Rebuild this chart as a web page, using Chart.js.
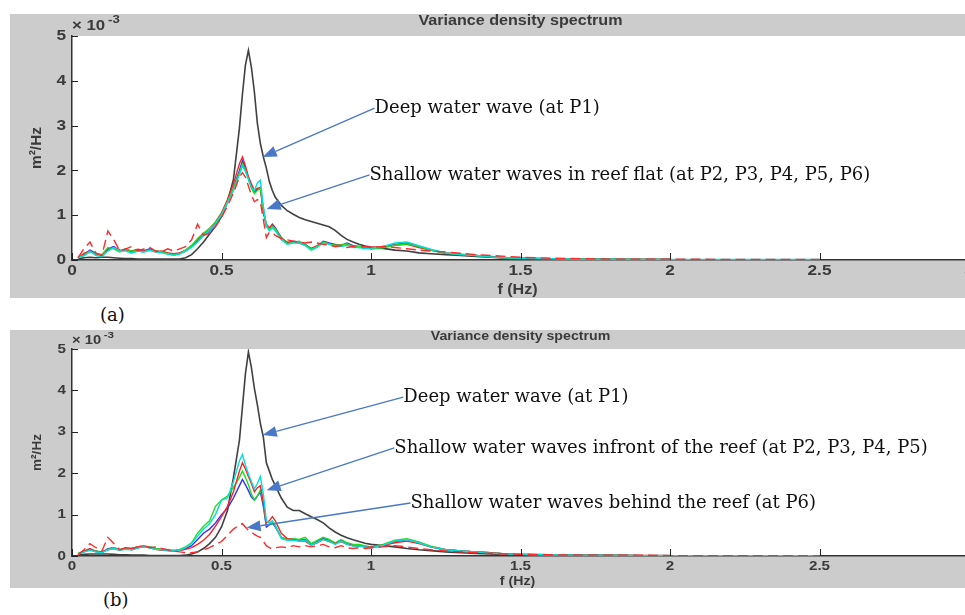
<!DOCTYPE html>
<html>
<head>
<meta charset="utf-8">
<script src="https://cdn.jsdelivr.net/npm/chart.js@4.4.0/dist/chart.umd.min.js"></script>
<style>
    html, body { margin: 0; padding: 0; background: #fff; width: 965px; height: 615px; overflow: hidden; }
    .panel { position: absolute; left: 10px; }
    #panelA { top: 14px; }
    #panelB { top: 330px; }
    .cap { position: absolute; font-family: "DejaVu Serif", serif; font-size: 18px; color: #111; }
</style>
</head>
<body>
<canvas id="panelA" class="panel" width="965" height="284"></canvas>
<canvas id="panelB" class="panel" width="965" height="258"></canvas>
<div class="cap" style="left:100px; top:304px;">(a)</div>
<div class="cap" style="left:103px; top:589px;">(b)</div>
<script>
// frequency axis (Hz), values in units of 1e-3 m^2/Hz
const freq = [0.02, 0.04, 0.06, 0.08, 0.10, 0.12, 0.14, 0.16, 0.18, 0.20, 0.22, 0.24, 0.26, 0.28,
    0.30, 0.32, 0.34, 0.36, 0.38, 0.40, 0.42, 0.44, 0.46, 0.48, 0.50, 0.52, 0.54, 0.56,
    0.57, 0.58, 0.59, 0.60, 0.61, 0.62, 0.63, 0.64, 0.65, 0.66, 0.67, 0.68,
    0.70, 0.72, 0.74, 0.76, 0.78, 0.80, 0.82, 0.84, 0.86, 0.88, 0.90, 0.92, 0.94, 0.96, 0.98, 1.00,
    1.04, 1.08, 1.12, 1.16, 1.20, 1.25, 1.30, 1.35, 1.40, 1.45, 1.50, 1.60, 1.70, 1.80, 1.90, 2.00, 2.25, 2.50];

const xTicks = [0, 0.5, 1, 1.5, 2, 2.5, 3];
const yTicks = [0, 1, 2, 3, 4, 5];

// (a) reef flat
const aP1 = [0.02, 0.05, 0.06, 0.05, 0.06, 0.06, 0.05, 0.04, 0.03, 0.03, 0.02, 0.02, 0.02, 0.02,
    0.02, 0.02, 0.02, 0.02, 0.05, 0.12, 0.25, 0.40, 0.58, 0.75, 0.97, 1.30, 1.80, 2.95,
    3.70, 4.35, 4.68, 4.30, 3.75, 3.05, 2.60, 2.30, 2.05, 1.75, 1.55, 1.40,
    1.22, 1.10, 1.02, 0.95, 0.90, 0.86, 0.82, 0.78, 0.74, 0.66, 0.55, 0.46, 0.40, 0.35, 0.31, 0.29,
    0.26, 0.22, 0.20, 0.16, 0.14, 0.12, 0.10, 0.08, 0.06, 0.04, 0.03, 0.02, 0.02, 0.01, 0.01, 0.01, null, null];
const aBlue = [0.05, 0.12, 0.22, 0.15, 0.10, 0.25, 0.30, 0.20, 0.25, 0.18, 0.22, 0.20, 0.25, 0.20,
    0.18, 0.15, 0.12, 0.15, 0.20, 0.30, 0.42, 0.55, 0.65, 0.80, 1.00, 1.30, 1.60, 2.00,
    2.22, 2.05, 1.85, 1.65, 1.50, 1.58, 1.62, 1.10, 0.75, 0.70, 0.80, 0.72,
    0.50, 0.38, 0.42, 0.40, 0.35, 0.25, 0.30, 0.42, 0.38, 0.35, 0.32, 0.38, 0.32, 0.30, 0.28, 0.25,
    0.28, 0.35, 0.38, 0.30, 0.22, 0.15, 0.12, 0.10, 0.08, 0.05, 0.04, 0.03, 0.02, 0.02, 0.01, 0.01, null, null];
const aRed = [0.04, 0.15, 0.20, 0.12, 0.12, 0.22, 0.28, 0.22, 0.22, 0.20, 0.24, 0.22, 0.22, 0.18,
    0.20, 0.16, 0.14, 0.16, 0.22, 0.32, 0.45, 0.58, 0.70, 0.85, 1.05, 1.35, 1.70, 2.15,
    2.30, 2.10, 1.85, 1.70, 1.55, 1.60, 1.60, 1.05, 0.80, 0.72, 0.78, 0.70,
    0.48, 0.40, 0.40, 0.38, 0.33, 0.26, 0.32, 0.40, 0.36, 0.33, 0.34, 0.36, 0.30, 0.28, 0.30, 0.28,
    0.30, 0.33, 0.35, 0.28, 0.22, 0.16, 0.13, 0.10, 0.07, 0.05, 0.04, 0.03, 0.02, 0.02, 0.01, 0.01, null, null];
const aGreen = [0.06, 0.10, 0.18, 0.14, 0.12, 0.28, 0.25, 0.18, 0.25, 0.20, 0.20, 0.18, 0.22, 0.20,
    0.18, 0.14, 0.12, 0.14, 0.22, 0.32, 0.48, 0.60, 0.70, 0.85, 1.02, 1.30, 1.60, 1.95,
    2.15, 2.00, 1.80, 1.60, 1.48, 1.55, 1.60, 1.15, 0.78, 0.68, 0.75, 0.70,
    0.48, 0.36, 0.40, 0.42, 0.35, 0.24, 0.30, 0.40, 0.36, 0.33, 0.33, 0.36, 0.30, 0.30, 0.28, 0.25,
    0.27, 0.33, 0.36, 0.30, 0.22, 0.15, 0.12, 0.10, 0.07, 0.05, 0.04, 0.03, 0.02, 0.02, 0.01, 0.01, null, null];
const aCyan = [0.04, 0.10, 0.20, 0.10, 0.08, 0.20, 0.28, 0.20, 0.20, 0.15, 0.20, 0.18, 0.22, 0.18,
    0.16, 0.13, 0.10, 0.13, 0.20, 0.28, 0.40, 0.55, 0.66, 0.80, 1.00, 1.28, 1.55, 1.90,
    2.10, 1.98, 1.80, 1.62, 1.55, 1.72, 1.78, 1.20, 0.75, 0.65, 0.72, 0.65,
    0.45, 0.35, 0.38, 0.38, 0.32, 0.22, 0.28, 0.38, 0.35, 0.30, 0.30, 0.33, 0.28, 0.28, 0.25, 0.26,
    0.30, 0.38, 0.40, 0.32, 0.24, 0.16, 0.12, 0.10, 0.07, 0.05, 0.04, 0.03, 0.02, 0.02, 0.01, 0.01, 0.01, 0.01];
const aP6 = [0.05, 0.25, 0.40, 0.15, 0.10, 0.65, 0.45, 0.20, 0.25, 0.30, 0.20, 0.25, 0.28, 0.20,
    0.18, 0.25, 0.20, 0.25, 0.30, 0.45, 0.80, 0.55, 0.60, 0.75, 0.95, 1.20, 1.50, 1.85,
    1.95, 1.85, 1.65, 1.45, 1.30, 1.35, 1.30, 0.90, 0.50, 0.62, 0.60, 0.55,
    0.48, 0.45, 0.42, 0.40, 0.38, 0.40, 0.38, 0.35, 0.33, 0.30, 0.32, 0.28, 0.30, 0.28, 0.30, 0.28,
    0.30, 0.28, 0.25, 0.22, 0.20, 0.18, 0.15, 0.12, 0.10, 0.08, 0.06, 0.04, 0.03, 0.02, 0.02, 0.02, 0.01, 0.01];

// (b) in front of / behind the reef
const bP1 = [0.02, 0.04, 0.05, 0.05, 0.05, 0.05, 0.04, 0.03, 0.03, 0.02, 0.02, 0.02, 0.01, 0.01,
    0.01, 0.01, 0.01, 0.01, 0.02, 0.05, 0.10, 0.18, 0.30, 0.45, 0.70, 1.10, 1.90, 2.80,
    3.60, 4.40, 4.93, 4.55, 4.05, 3.65, 3.20, 2.87, 2.25, 2.05, 1.85, 1.70,
    1.40, 1.18, 1.10, 1.10, 1.02, 0.95, 0.88, 0.80, 0.68, 0.58, 0.50, 0.44, 0.39, 0.35, 0.31, 0.28,
    0.25, 0.22, 0.18, 0.15, 0.13, 0.10, 0.08, 0.06, 0.05, 0.04, 0.03, 0.02, 0.02, 0.01, 0.01, 0.01, null, null];
const bBlue = [0.05, 0.10, 0.15, 0.12, 0.08, 0.18, 0.20, 0.15, 0.18, 0.15, 0.20, 0.22, 0.22, 0.18,
    0.15, 0.14, 0.12, 0.14, 0.18, 0.25, 0.40, 0.55, 0.65, 0.80, 1.00, 1.15, 1.40, 1.70,
    1.85, 1.72, 1.58, 1.42, 1.35, 1.45, 1.55, 1.20, 0.70, 0.75, 0.80, 0.70,
    0.45, 0.40, 0.40, 0.38, 0.40, 0.28, 0.35, 0.42, 0.38, 0.30, 0.38, 0.30, 0.25, 0.25, 0.22, 0.20,
    0.25, 0.35, 0.40, 0.32, 0.22, 0.15, 0.12, 0.10, 0.08, 0.05, 0.04, 0.03, 0.02, 0.02, 0.01, 0.01, null, null];
const bRed = [0.04, 0.12, 0.18, 0.10, 0.10, 0.15, 0.18, 0.14, 0.20, 0.18, 0.22, 0.24, 0.20, 0.16,
    0.14, 0.13, 0.12, 0.13, 0.16, 0.20, 0.28, 0.38, 0.52, 0.72, 0.95, 1.20, 1.55, 2.05,
    2.25, 2.10, 1.92, 1.75, 1.55, 1.65, 1.70, 1.30, 0.80, 0.85, 0.95, 0.85,
    0.55, 0.42, 0.40, 0.36, 0.36, 0.26, 0.32, 0.40, 0.35, 0.30, 0.35, 0.28, 0.25, 0.24, 0.22, 0.22,
    0.26, 0.32, 0.36, 0.30, 0.22, 0.15, 0.12, 0.10, 0.08, 0.05, 0.04, 0.03, 0.02, 0.02, 0.01, 0.01, null, null];
const bGreen = [0.06, 0.12, 0.16, 0.12, 0.10, 0.16, 0.20, 0.16, 0.18, 0.18, 0.22, 0.24, 0.22, 0.18,
    0.16, 0.15, 0.14, 0.16, 0.22, 0.32, 0.55, 0.72, 0.85, 1.20, 1.35, 1.45, 1.65, 1.90,
    2.05, 1.90, 1.72, 1.50, 1.35, 1.45, 1.60, 1.30, 0.75, 0.75, 0.80, 0.72,
    0.45, 0.40, 0.42, 0.40, 0.45, 0.30, 0.38, 0.45, 0.40, 0.32, 0.40, 0.32, 0.28, 0.28, 0.25, 0.22,
    0.28, 0.38, 0.42, 0.34, 0.24, 0.16, 0.12, 0.10, 0.08, 0.05, 0.04, 0.03, 0.02, 0.02, 0.01, 0.01, null, null];
const bCyan = [0.04, 0.10, 0.14, 0.10, 0.08, 0.15, 0.18, 0.14, 0.16, 0.15, 0.20, 0.22, 0.20, 0.16,
    0.15, 0.13, 0.12, 0.14, 0.20, 0.30, 0.48, 0.65, 0.78, 1.00, 1.35, 1.40, 1.80, 2.30,
    2.45, 2.20, 1.98, 1.80, 1.62, 1.75, 1.92, 1.50, 0.85, 0.80, 0.85, 0.75,
    0.42, 0.38, 0.38, 0.36, 0.38, 0.26, 0.33, 0.40, 0.36, 0.28, 0.36, 0.28, 0.24, 0.24, 0.22, 0.20,
    0.26, 0.36, 0.40, 0.32, 0.22, 0.15, 0.12, 0.10, 0.07, 0.05, 0.04, 0.03, 0.02, 0.02, 0.01, 0.01, 0.01, 0.01];
const bP6 = [0.02, 0.15, 0.30, 0.20, 0.12, 0.45, 0.30, 0.15, 0.20, 0.18, 0.22, 0.25, 0.20, 0.22,
    0.18, 0.15, 0.12, 0.10, 0.08, 0.08, 0.10, 0.15, 0.20, 0.28, 0.35, 0.50, 0.65, 0.75,
    0.78, 0.70, 0.62, 0.58, 0.52, 0.48, 0.45, 0.35, 0.25, 0.20, 0.18, 0.20,
    0.22, 0.20, 0.25, 0.22, 0.25, 0.22, 0.25, 0.28, 0.22, 0.20, 0.25, 0.20, 0.18, 0.20, 0.18, 0.20,
    0.22, 0.25, 0.22, 0.18, 0.15, 0.12, 0.10, 0.08, 0.06, 0.05, 0.04, 0.03, 0.02, 0.02, 0.02, 0.01, 0.01, 0.01];

const notesA = [
    { text: "Deep water wave (at P1)", x: 1.012, y: 3.39, tipX: 0.638, tipY: 2.30 },
    { text: "Shallow water waves in reef flat (at P2, P3, P4, P5, P6)", x: 0.995, y: 1.90, tipX: 0.651, tipY: 1.14 }
];
const notesB = [
    { text: "Deep water wave (at P1)", x: 1.108, y: 3.84, tipX: 0.638, tipY: 2.92 },
    { text: "Shallow water waves infront of the reef (at P2, P3, P4, P5)", x: 1.078, y: 2.61, tipX: 0.651, tipY: 1.59 },
    { text: "Shallow water waves behind the reef (at P6)", x: 1.132, y: 1.28, tipX: 0.584, tipY: 0.68 }
];

function points(vals) {
    return freq.map((f, i) => ({ x: f, y: vals[i] }));
}

function wideText(ctx, str, x, y, align, sx) {
    ctx.save();
    ctx.translate(x, y);
    ctx.scale(sx, 1);
    ctx.textAlign = align;
    ctx.fillText(str, 0, 0);
    ctx.restore();
}

function drawArrow(ctx, x0, y0, x1, y1) {
    const ang = Math.atan2(y1 - y0, x1 - x0);
    const L = 14, W = 5.5;
    const bx = x1 - L * Math.cos(ang), by = y1 - L * Math.sin(ang);
    ctx.beginPath();
    ctx.moveTo(x0, y0);
    ctx.lineTo(bx, by);
    ctx.stroke();
    ctx.beginPath();
    ctx.moveTo(x1, y1);
    ctx.lineTo(bx + W * Math.sin(ang), by - W * Math.cos(ang));
    ctx.lineTo(bx - W * Math.sin(ang), by + W * Math.cos(ang));
    ctx.closePath();
    ctx.fill();
}

// MATLAB-figure look: gray frame, inward ticks, stretched sans labels, arrows
const matlabLook = {
    id: "matlabLook",
    beforeDraw(chart) {
        const { ctx, chartArea: a } = chart;
        ctx.save();
        ctx.fillStyle = "#cccccc";
        ctx.fillRect(0, 0, chart.width, chart.height);
        ctx.fillStyle = "#ffffff";
        ctx.fillRect(a.left, a.top, a.right - a.left, a.bottom - a.top);
        ctx.restore();
    },
    afterDraw(chart, args, o) {
        const { ctx, chartArea: a } = chart;
        const x = chart.scales.x, y = chart.scales.y;
        const k = o.k;
        const sans = "px 'Liberation Sans', Arial, sans-serif";
        ctx.save();

        // inward tick marks
        ctx.strokeStyle = "#222";
        ctx.lineWidth = 1;
        x.ticks.forEach(t => {
            const px = Math.round(x.getPixelForValue(t.value)) + 0.5;
            ctx.beginPath(); ctx.moveTo(px, a.bottom); ctx.lineTo(px, a.bottom - 7); ctx.stroke();
        });
        y.ticks.forEach(t => {
            const py = Math.round(y.getPixelForValue(t.value)) + 0.5;
            ctx.beginPath(); ctx.moveTo(a.left, py); ctx.lineTo(a.left + 6, py); ctx.stroke();
        });

        // tick labels
        ctx.fillStyle = "#3a3a3a";
        ctx.textBaseline = "middle";
        ctx.font = "bold " + (15 * k) + sans;
        x.ticks.forEach(t => wideText(ctx, t.label, x.getPixelForValue(t.value), a.bottom + o.xLabelGap, "center", 1.15));
        y.ticks.forEach(t => wideText(ctx, t.label, a.left - 6, y.getPixelForValue(t.value), "right", 1.15));

        // exponent
        ctx.font = "bold " + (14 * k) + sans;
        wideText(ctx, "\u00d7 10", a.left, o.expY, "left", 1.2);
        ctx.font = "bold " + (11 * k) + sans;
        wideText(ctx, "-3", a.left + 36 * k, o.expY - 6, "left", 1.2);

        // title and axis titles
        ctx.font = "bold " + (14 * k) + sans;
        wideText(ctx, "Variance density spectrum", (a.left + a.right) / 2, 7, "center", 1.15);
        ctx.font = "bold " + (14 * k) + sans;
        wideText(ctx, "f (Hz)", (a.left + a.right) / 2 - 3, a.bottom + o.xTitleGap, "center", 1.15);
        ctx.save();
        ctx.translate(27, (a.top + a.bottom) / 2);
        ctx.rotate(-Math.PI / 2);
        ctx.scale(1.1, 1.1);
        ctx.textAlign = "center";
        ctx.fillText("m\u00b2/Hz", 0, 0);
        ctx.restore();

        // annotations
        ctx.strokeStyle = "#4a78c8";
        ctx.fillStyle = "#4a78c8";
        ctx.lineWidth = 1.3;
        o.notes.forEach(n => {
            drawArrow(ctx, x.getPixelForValue(n.x), y.getPixelForValue(n.y),
                x.getPixelForValue(n.tipX), y.getPixelForValue(n.tipY));
        });
        ctx.fillStyle = "#111";
        ctx.font = "18px 'DejaVu Serif', serif";
        ctx.textAlign = "left";
        o.notes.forEach(n => {
            ctx.fillText(n.text, x.getPixelForValue(n.x), y.getPixelForValue(n.y));
        });
        ctx.restore();
    }
};

function line(vals, color, dashed) {
    return {
        data: points(vals),
        borderColor: color,
        borderWidth: color === "#404040" ? 1.6 : 1.4,
        borderDash: dashed ? [10, 5] : [],
        pointRadius: 0,
        fill: false,
        tension: 0
    };
}

function makePanel(id, datasets, plotTop, axisH, opts) {
    const ctx = document.getElementById(id).getContext("2d");
    return new Chart(ctx, {
        type: "line",
        data: { datasets: datasets },
        options: {
            responsive: false,
            animation: false,
            events: [],
            layout: { padding: { top: plotTop, right: 6, left: 0, bottom: 0 } },
            scales: {
                x: {
                    type: "linear",
                    min: 0, max: 3,
                    afterBuildTicks: s => { s.ticks = xTicks.map(v => ({ value: v })); },
                    afterFit: s => { s.height = axisH; },
                    ticks: { display: false },
                    grid: { display: false },
                    border: { display: true, color: "#333", width: 1.5 }
                },
                y: {
                    min: 0, max: 5,
                    afterBuildTicks: s => { s.ticks = yTicks.map(v => ({ value: v })); },
                    afterFit: s => { s.width = 62; },
                    ticks: { display: false },
                    grid: { display: false },
                    border: { display: true, color: "#333", width: 1.5 }
                }
            },
            plugins: {
                legend: { display: false },
                tooltip: { enabled: false },
                matlabLook: opts
            }
        },
        plugins: [matlabLook]
    });
}

const chartA = makePanel("panelA", [
    line(aP6, "#ff2a2a", true),
    line(aCyan, "#00e0e0"),
    line(aGreen, "#22dd22"),
    line(aRed, "#ff2020"),
    line(aBlue, "#3030ff"),
    line(aP1, "#404040")
], 22, 38, { k: 1, xLabelGap: 11, xTitleGap: 30, expY: 12, notes: notesA });

const chartB = makePanel("panelB", [
    line(bP6, "#ff2a2a", true),
    line(bCyan, "#00e0e0"),
    line(bRed, "#ff2020"),
    line(bGreen, "#22dd22"),
    line(bBlue, "#3030ff"),
    line(bP1, "#404040")
], 19, 32, { k: 0.88, xLabelGap: 10, xTitleGap: 26, expY: 11, notes: notesB });

// tick labels as text
[chartA, chartB].forEach(c => {
    c.scales.x.ticks.forEach(t => { t.label = String(t.value); });
    c.scales.y.ticks.forEach(t => { t.label = String(t.value); });
    c.draw();
});
</script>
</body>
</html>
